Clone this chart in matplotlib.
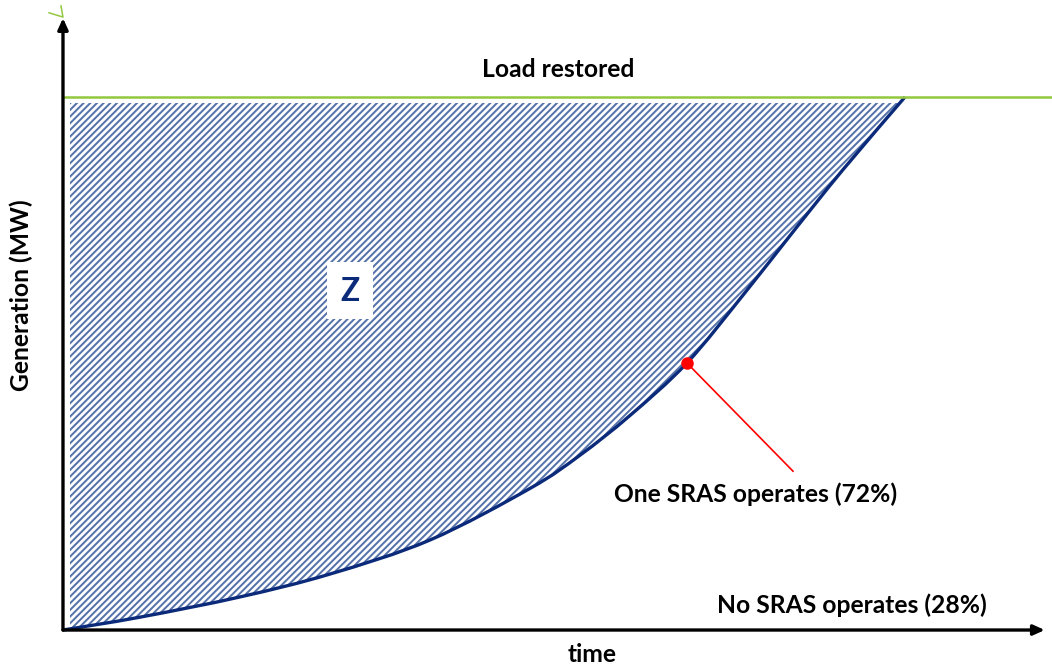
import numpy as np
import matplotlib.pyplot as plt
from matplotlib.patches import Rectangle, PathPatch
from matplotlib.path import Path

plt.rcParams['font.family'] = ['Lato', 'DejaVu Sans']
plt.rcParams['hatch.linewidth'] = 1.2
plt.rcParams['hatch.color'] = '#5672aa'

# restoration curve: time (arbitrary units) vs generation (% of load)
time = [0, 9.1, 21.0, 31.7, 43.6, 55.5, 61.4, 67.3, 74.1, 80.8, 86.7, 92.6, 100.0]
generation = [0, 2.4, 6.2, 10.5, 16.9, 26.6, 32.8, 40.2, 50.1, 62.9, 74.7, 86.3, 100.0]
load_restored = 100.0
sras_point = (74.1, 50.1)

navy = '#0b2a7a'
green = '#92c83e'


def smooth_path(x, y):
    # Catmull-Rom style bezier through the points (like a smoothed line in Excel)
    p = np.column_stack([x, y])
    verts = [p[0]]
    codes = [Path.MOVETO]
    for i in range(len(p) - 1):
        p0 = p[i - 1] if i > 0 else p[i]
        p3 = p[i + 2] if i + 2 < len(p) else p[i + 1]
        c1 = p[i] + (p[i + 1] - p0) / 6
        c2 = p[i + 1] - (p3 - p[i]) / 6
        verts += [c1, c2, p[i + 1]]
        codes += [Path.CURVE4] * 3
    return verts, codes


fig = plt.figure(figsize=(1052 / 120, 670 / 120), dpi=120)
ax = fig.add_axes([0, 0, 1, 1])
ax.set_xlim(-7.48, 117.46)
ax.set_ylim(-7.50, 118.2)
ax.axis('off')

verts, codes = smooth_path(time, generation)

# hatched area Z (slightly inset from the axes and the top line)
fverts = verts + [(0, generation[-1]), (0, 0)]
fcodes = codes + [Path.LINETO, Path.CLOSEPOLY]
fill = PathPatch(Path(fverts, fcodes), facecolor='white', edgecolor='#5672aa',
                 hatch='//////', linewidth=0)
ax.add_patch(fill)
fill.set_clip_path(Rectangle((0.8, -5), 120, 103.9, transform=ax.transData))

# load restored line
ax.axhline(load_restored, xmin=7.48 / 124.94, color=green, lw=1.5)

# curve
ax.add_patch(PathPatch(Path(verts, codes), facecolor='none', edgecolor=navy, lw=2.0))

# axes arrows
arrow = dict(arrowstyle='-|>,head_length=0.55,head_width=0.25', lw=2.0,
             color='black', shrinkA=0, shrinkB=0)
ax.annotate('', xy=(0, 114.8), xytext=(0, 0), arrowprops=arrow)
ax.annotate('', xy=(116.6, 0), xytext=(0, 0), arrowprops=arrow)
# small green tick at the top of the y axis
ax.plot([-1.66, 0, -0.24], [115.8, 115.0, 117.1], color=green, lw=0.9)

# SRAS point and leader line
ax.plot([sras_point[0], 86.7], [sras_point[1], 29.8], color='red', lw=1.0)
ax.plot(*sras_point, 'o', color='red', ms=6.5)

fs = 14.8
ax.text(58.8, 105.1, 'Load restored', ha='center', va='center', fontsize=fs, fontweight='bold')
ax.text(82.2, 25.5, 'One SRAS operates (72%)', ha='center', va='center', fontsize=fs, fontweight='bold')
ax.text(93.7, 4.7, 'No SRAS operates (28%)', ha='center', va='center', fontsize=fs, fontweight='bold')
ax.text(62.8, -4.5, 'time', ha='center', va='center', fontsize=fs, fontweight='bold')
ax.text(-5.0, 62.9, 'Generation (MW)', ha='center', va='center', rotation=90, fontsize=fs, fontweight='bold')

# white box behind the Z label
ax.add_patch(Rectangle((31.4, 58.3), 5.4, 10.7, facecolor='white', edgecolor='none'))
ax.text(34.1, 63.6, 'Z', ha='center', va='center', fontsize=19, fontweight='bold', color=navy)

fig.savefig('out.png', dpi=120)
